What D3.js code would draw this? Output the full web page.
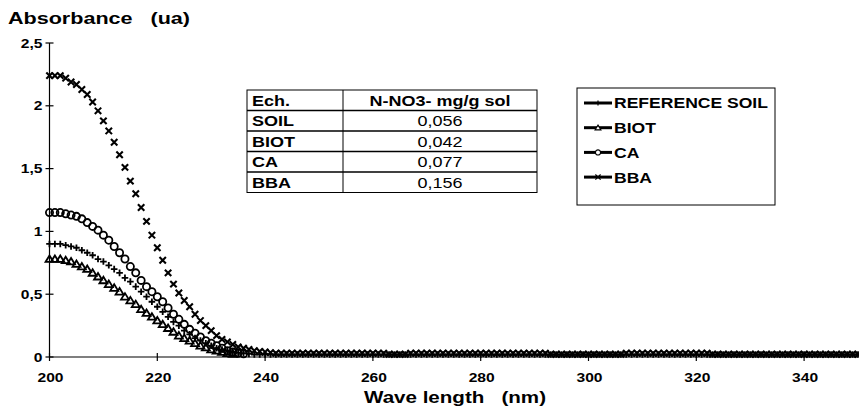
<!DOCTYPE html>
<html>
<head>
<meta charset="utf-8">
<script src="https://cdn.jsdelivr.net/npm/d3@7/dist/d3.min.js"></script>
<style>
  body { margin: 0; background: #fff; }
  text { font-family: "Liberation Sans", Arial, sans-serif; fill: #000; }
</style>
</head>
<body>
<div id="chart"></div>
<script>
// wavelength of the first sample, one sample per nm
const startNm = 200;

const seriesNames = ["REFERENCE SOIL", "BIOT", "CA", "BBA"];

const refSoil = [
  0.90,0.90,0.90,0.89,0.88,0.87,0.85,0.83,0.81,0.78,
  0.76,0.73,0.70,0.67,0.63,0.60,0.56,0.52,0.48,0.44,
  0.40,0.36,0.32,0.28,0.25,0.21,0.18,0.15,0.13,0.11,
  0.09,0.07,0.06,0.05,0.04,0.035,0.03,0.025,0.02,0.02,
  0.02,0.02,0.02,0.02,0.02,0.02,0.02,0.02,0.02,0.02,
  0.02,0.02,0.02,0.02,0.02,0.02,0.02,0.02,0.02,0.02,
  0.02,0.02,0.02,0.02,0.02,0.02,0.02,0.02,0.02,0.02,
  0.02,0.02,0.02,0.02,0.02,0.02,0.02,0.02,0.02,0.02,
  0.02,0.02,0.02,0.02,0.02,0.02,0.02,0.02,0.02,0.02,
  0.02,0.02,0.02,0.02,0.02,0.02,0.02,0.02,0.02,0.02,
  0.02,0.02,0.02,0.02,0.02,0.02,0.02,0.02,0.02,0.02,
  0.02,0.02,0.02,0.02,0.02,0.02,0.02,0.02,0.02,0.02,
  0.02,0.02,0.02,0.02,0.02,0.02,0.02,0.02,0.02,0.02,
  0.02,0.02,0.02,0.02,0.02,0.02,0.02,0.02,0.02,0.02,
  0.02,0.02,0.02,0.02,0.02,0.02,0.02,0.02,0.02,0.02,
  0.02
];

const biot = [
  0.78,0.78,0.78,0.77,0.76,0.74,0.72,0.70,0.67,0.64,
  0.61,0.58,0.55,0.52,0.48,0.45,0.42,0.38,0.35,0.32,
  0.29,0.26,0.23,0.20,0.17,0.15,0.13,0.11,0.09,0.075,
  0.06,0.05,0.04,0.03,0.025
];

const ca = [
  1.15,1.15,1.15,1.14,1.13,1.12,1.10,1.07,1.04,1.01,
  0.97,0.93,0.88,0.83,0.78,0.72,0.67,0.61,0.56,0.52,
  0.48,0.44,0.39,0.34,0.30,0.26,0.22,0.19,0.16,0.13,
  0.11,0.09,0.07,0.05,0.04,0.03,0.025
];

const bba = [
  2.24,2.24,2.24,2.22,2.19,2.17,2.13,2.09,2.03,1.96,
  1.88,1.80,1.71,1.61,1.51,1.40,1.30,1.19,1.08,0.97,
  0.87,0.77,0.67,0.58,0.51,0.45,0.40,0.34,0.29,0.25,
  0.21,0.17,0.14,0.12,0.10,0.08,0.07,0.06,0.05,0.045,
  0.04,0.035,0.03,0.03,0.03,0.03,0.03,0.03,0.03,0.03,
  0.03,0.03,0.03,0.03,0.03,0.03,0.03,0.03,0.03,0.03,
  0.03,0.03,0.03,0.022,0.022,0.022,0.022,0.03,0.03,0.03,
  0.03,0.03,0.03,0.03,0.03,0.03,0.03,0.03,0.03,0.03,
  0.03,0.03,0.03,0.03,0.03,0.03,0.03,0.03,0.03,0.03,
  0.03,0.03,0.03,0.022,0.022,0.022,0.022,0.022,0.022,0.022,
  0.022,0.022,0.022,0.022,0.022,0.022,0.022,0.03,0.03,0.03,
  0.03,0.03,0.03,0.03,0.03,0.03,0.03,0.03,0.03,0.03,
  0.03,0.03,0.03,0.022,0.022,0.022,0.022,0.022,0.022,0.022,
  0.022,0.022,0.022,0.022,0.022,0.022,0.022,0.022,0.022,0.022,
  0.022,0.022,0.022,0.022,0.022,0.022,0.022,0.022,0.022,0.022,
  0.022
];

const xTicks = [200, 220, 240, 260, 280, 300, 320, 340];
const yTicks = [0, 0.5, 1, 1.5, 2, 2.5];
const yTickLabels = ["0", "0,5", "1", "1,5", "2", "2,5"];

const tableHeader = ["Ech.", "N-NO3- mg/g sol"];
const tableSamples = ["SOIL", "BIOT", "CA", "BBA"];
const tableNitrate = ["0,056", "0,042", "0,077", "0,156"];

const W = 859, H = 412;

const svg = d3.select("#chart")
  .append("svg")
  .attr("width", W)
  .attr("height", H);

const x = d3.scaleLinear().domain([200, 350]).range([49.5, 858]);
const y = d3.scaleLinear().domain([0, 2.5]).range([357, 43]);

// the scanned lettering is wider than Arial, so text gets a horizontal stretch
function label(g, tx, ty, str, size, bold, anchor = "start", k = 1.2) {
  return g.append("text")
    .attr("transform", `translate(${tx},${ty}) scale(${k},1)`)
    .attr("text-anchor", anchor)
    .attr("dy", "0.36em")
    .attr("font-size", size)
    .attr("font-weight", bold ? "bold" : "normal")
    .attr("xml:space", "preserve")
    .text(str);
}

// marker shapes, stroked outlines only
function markerPath(type, s) {
  if (type === "plus") return `M${-s},0H${s}M0,${-s}V${s}`;
  if (type === "x") return `M${-s},${-s}L${s},${s}M${-s},${s}L${s},${-s}`;
  if (type === "tri") return `M0,${-s}L${s * 1.1},${s * 0.8}L${-s * 1.1},${s * 0.8}Z`;
  return d3.arc()({innerRadius: 0, outerRadius: s, startAngle: 0, endAngle: 2 * Math.PI});
}

const series = [
  {name: seriesNames[0], values: refSoil, marker: "plus", size: 3.3, sw: 1.8},
  {name: seriesNames[1], values: biot, marker: "tri", size: 3.6, sw: 1.8},
  {name: seriesNames[2], values: ca, marker: "circle", size: 3.6, sw: 1.8},
  {name: seriesNames[3], values: bba, marker: "x", size: 3.2, sw: 2.1}
];

// axes
const axes = svg.append("g").attr("stroke", "#000").attr("stroke-width", 1.2);
axes.append("line").attr("x1", x(200)).attr("x2", x(350)).attr("y1", y(0)).attr("y2", y(0));
axes.append("line").attr("x1", x(200)).attr("x2", x(200)).attr("y1", y(0)).attr("y2", y(2.5));

axes.selectAll(".ytick")
  .data(yTicks)
  .enter()
  .append("line")
  .attr("x1", x(200) - 4).attr("x2", x(200) + 4)
  .attr("y1", d => y(d)).attr("y2", d => y(d));

axes.selectAll(".xtick")
  .data(xTicks)
  .enter()
  .append("line")
  .attr("x1", d => x(d)).attr("x2", d => x(d))
  .attr("y1", y(0) - 4).attr("y2", y(0) + 4);

const labels = svg.append("g");
yTicks.forEach((d, i) => label(labels, x(200) - 7, y(d), yTickLabels[i], 13, true, "end"));
xTicks.forEach(d => label(labels, x(d) + 1, 377, String(d), 13, true, "middle"));

svg.append("text")
  .attr("x", 8).attr("y", 24)
  .attr("font-size", 16).attr("font-weight", "bold")
  .attr("xml:space", "preserve")
  .attr("textLength", 182).attr("lengthAdjust", "spacingAndGlyphs")
  .text("Absorbance   (ua)");

svg.append("text")
  .attr("x", 364).attr("y", 403)
  .attr("font-size", 16).attr("font-weight", "bold")
  .attr("xml:space", "preserve")
  .attr("textLength", 182).attr("lengthAdjust", "spacingAndGlyphs")
  .text("Wave length   (nm)");

// data markers
series.forEach(s => {
  svg.append("g")
    .selectAll("path")
    .data(s.values)
    .enter()
    .append("path")
    .attr("transform", (d, i) => `translate(${x(startNm + i)},${y(d)})`)
    .attr("d", markerPath(s.marker, s.size))
    .attr("fill", "none")
    .attr("stroke", "#000")
    .attr("stroke-width", s.sw);
});

// table of nitrate contents
const tbl = {x0: 247, x1: 343, x2: 537, top: 90, rowH: 20.5};
const tg = svg.append("g");
const rows = [tableHeader].concat(tableSamples.map((s, i) => [s, tableNitrate[i]]));
tg.append("rect")
  .attr("x", tbl.x0).attr("y", tbl.top)
  .attr("width", tbl.x2 - tbl.x0).attr("height", tbl.rowH * rows.length)
  .attr("fill", "#fff").attr("stroke", "#000");
tg.append("line")
  .attr("x1", tbl.x1).attr("x2", tbl.x1)
  .attr("y1", tbl.top).attr("y2", tbl.top + tbl.rowH * rows.length)
  .attr("stroke", "#000");
rows.forEach((r, i) => {
  if (i > 0) {
    tg.append("line")
      .attr("x1", tbl.x0).attr("x2", tbl.x2)
      .attr("y1", tbl.top + tbl.rowH * i).attr("y2", tbl.top + tbl.rowH * i)
      .attr("stroke", "#000").attr("stroke-width", 1.3);
  }
  const cy = tbl.top + tbl.rowH * (i + 0.5);
  label(tg, tbl.x0 + 5, cy, r[0], 15, true);
  label(tg, (tbl.x1 + tbl.x2) / 2, cy, r[1], 15, i === 0, "middle");
});

// legend
const lg = svg.append("g");
lg.append("rect")
  .attr("x", 577).attr("y", 88).attr("width", 198).attr("height", 117)
  .attr("fill", "#fff").attr("stroke", "#000");
series.forEach((s, i) => {
  const ly = 103 + i * 24.7;
  lg.append("line")
    .attr("x1", 584).attr("x2", 612).attr("y1", ly).attr("y2", ly)
    .attr("stroke", "#000").attr("stroke-width", 3);
  lg.append("path")
    .attr("transform", `translate(598,${ly})`)
    .attr("d", markerPath(s.marker, 2.6))
    .attr("fill", "#fff").attr("stroke", "#000").attr("stroke-width", 1.2);
  label(lg, 614, ly, s.name, 15, true, "start", 1.17);
});
</script>
</body>
</html>
